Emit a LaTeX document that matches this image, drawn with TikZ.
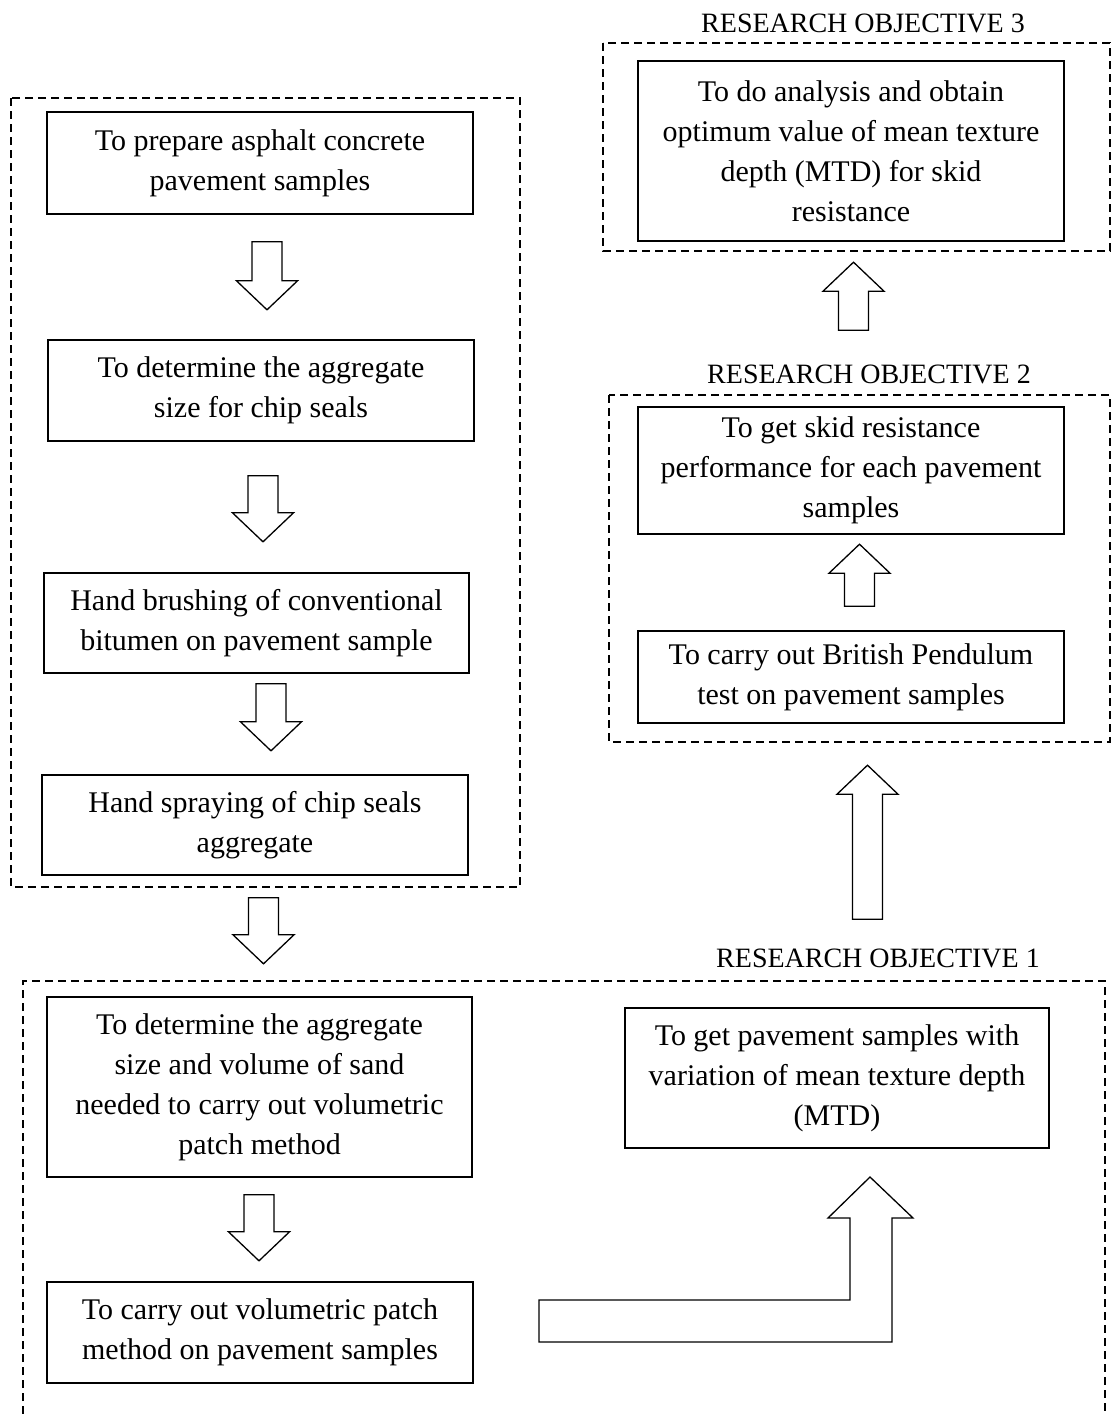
\documentclass[tikz,border=0pt]{standalone}
\usepackage{fontspec}
\setmainfont{Liberation Serif}
\usetikzlibrary{calc}
\tikzset{stepbox/.style = {draw, line width=1.6pt, align=center, inner sep=0pt,
                           font=\fontsize{30}{40}\selectfont}}
\tikzset{groupbox/.style = {draw, line width=1.2pt, dash pattern=on 8pt off 5pt}}
\tikzset{grouplabel/.style = {font=\fontsize{28}{32}\selectfont}}
\tikzset{arrowline/.style = {draw, line width=1.3pt, fill=white, line join=miter}}
\tikzset{pics/hollowarrow/.style = {code = {
      \draw [arrowline] (-15, 0) -- (-15, #1-29) -- (-30.5, #1-29) -- (0, #1)
                        -- (30.5, #1-29) -- (15, #1-29) -- (15, 0) -- cycle;}}}

\begin{document}
\begin{tikzpicture}[x=1pt, y=-1pt]
      \useasboundingbox (0, 0) rectangle (1111, 1414);

      % sample preparation
      \draw [groupbox] (11, 98) rectangle (520, 887);
      \node [stepbox, minimum width=426pt, minimum height=102pt] (prep) at (260, 163)
            {To prepare asphalt concrete\\pavement samples};
      \node [stepbox, minimum width=426pt, minimum height=101pt] (aggr) at (261, 390.5)
            {To determine the aggregate\\size for chip seals};
      \node [stepbox, minimum width=425pt, minimum height=100pt] (brush) at (256.5, 623)
            {Hand brushing of conventional\\bitumen on pavement sample};
      \node [stepbox, minimum width=426pt, minimum height=100pt] (spray) at (255, 825)
            {Hand spraying of chip seals\\aggregate};
      \pic at ($(prep.south)+(7, 27)$) {hollowarrow=68};
      \pic at ($(aggr.south)+(2, 34)$) {hollowarrow=66};
      \pic at ($(brush.south)+(14.5, 10)$) {hollowarrow=67};
      \pic at ($(spray.south)+(8.5, 22)$) {hollowarrow=66};

      % objective 1
      \draw [groupbox] (23, 1414) -- (23, 981) -- (1105, 981) -- (1105, 1414);
      \node [grouplabel] (ro1) at (878, 958) {RESEARCH OBJECTIVE 1};
      \node [stepbox, minimum width=425pt, minimum height=180pt] (sand) at (259.5, 1087)
            {To determine the aggregate\\size and volume of sand\\needed to carry out volumetric\\patch method};
      \node [stepbox, minimum width=426pt, minimum height=101pt] (patch) at (260, 1332.5)
            {To carry out volumetric patch\\method on pavement samples};
      \node [stepbox, minimum width=424pt, minimum height=140pt] (mtd) at (837, 1078)
            {To get pavement samples with\\variation of mean texture depth\\(MTD)};
      \pic at ($(sand.south)+(-0.5, 17)$) {hollowarrow=66};
      \draw [arrowline] (539, 1300) -- (850, 1300) -- (850, 1218) -- (828, 1218) -- (870, 1177)
                        -- (913, 1218) -- (892, 1218) -- (892, 1342) -- (539, 1342) -- cycle; %bent arrow

      % objective 2
      \draw [groupbox] (609, 395) rectangle (1110, 742);
      \node [grouplabel] (ro2) at (869, 374) {RESEARCH OBJECTIVE 2};
      \node [stepbox, minimum width=426pt, minimum height=127pt] (skid) at (851, 470.5)
            {To get skid resistance\\performance for each pavement\\samples};
      \node [stepbox, minimum width=426pt, minimum height=92pt] (pend) at (851, 677)
            {To carry out British Pendulum\\test on pavement samples};
      \pic [rotate=180] at ($(pend.north)+(8.5, -24)$) {hollowarrow=62};
      \pic [rotate=180] at ($(mtd.north)+(30.5, -88)$) {hollowarrow=154};

      % objective 3
      \draw [groupbox] (603, 43) rectangle (1110, 251);
      \node [grouplabel] (ro3) at (863, 23) {RESEARCH OBJECTIVE 3};
      \node [stepbox, minimum width=426pt, minimum height=180pt] (optim) at (851, 151)
            {To do analysis and obtain\\optimum value of mean texture\\depth (MTD) for skid\\resistance};
      \pic [rotate=180] at ($(skid.north)+(2.5, -76)$) {hollowarrow=68};
\end{tikzpicture}
\end{document}
